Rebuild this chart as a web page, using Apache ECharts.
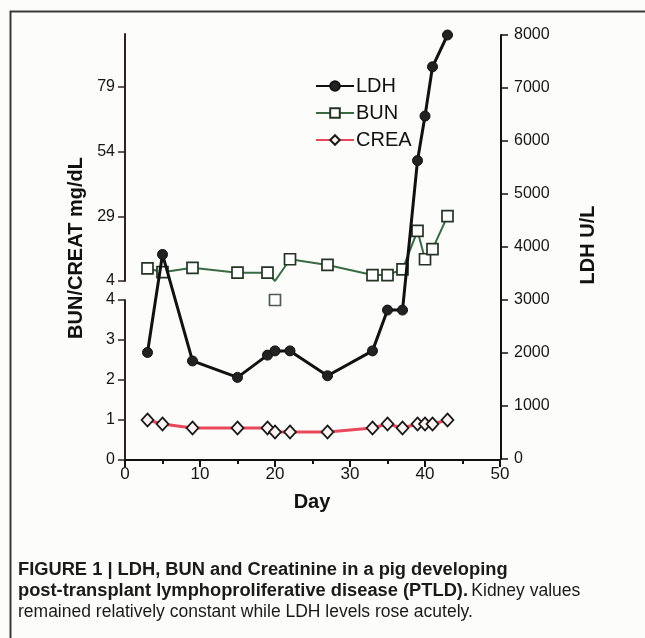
<!DOCTYPE html>
<html>
<head>
<meta charset="utf-8">
<script src="https://cdn.jsdelivr.net/npm/echarts@6/dist/echarts.min.js"></script>
<style>
html,body{margin:0;padding:0;background:#fcfcfb;}
#c{width:645px;height:638px;}
</style>
</head>
<body>
<div id="c"></div>
<script>
// ---- data ----
const days = [3, 5, 9, 15, 19, 20, 22, 27, 33, 35, 37, 39, 40, 41, 43];
const ldh  = [2010, 3860, 1850, 1540, 1960, 2040, 2040, 1570, 2040, 2810, 2810, 5630, 6470, 7400, 8000];
const bun  = [8.9, 7.4, 9.1, 7.2, 7.2, 4.0, 12.4, 10.2, 6.3, 6.3, 8.5, 23.4, 12.4, 16.3, 29.1];
const crea = [1.0, 0.9, 0.8, 0.8, 0.8, 0.7, 0.7, 0.7, 0.8, 0.9, 0.8, 0.9, 0.9, 0.9, 1.0];
const upperTicks = [4, 29, 54, 79];
const lowerTicks = [0, 1, 2, 3, 4];
const xTicks = [0, 10, 20, 30, 40, 50];
const ldhTicks = [0, 1000, 2000, 3000, 4000, 5000, 6000, 7000, 8000];
const breakValue = 4;

const FONT = "'Liberation Sans', Arial, sans-serif";
const chart = echarts.init(document.getElementById('c'), null, {renderer: 'canvas'});

const bunUpper = days.map((d, i) => bun[i] > breakValue ? [d, bun[i]] : {value: [d, breakValue], symbol: 'none'});
const bunLower = days.map((d, i) => [d, bun[i]]).filter(p => p[1] <= breakValue);

const axisCol = '#2e2222';
const labelStyle = {color: '#151515', fontSize: 16, fontFamily: FONT};

chart.setOption({
  backgroundColor: '#fcfcfb',
  animation: false,
  grid: [
    {left: 125, top: 34, width: 375, height: 247},
    {left: 125, top: 300, width: 375, height: 160},
    {left: 125, top: 35, width: 375, height: 424}
  ],
  xAxis: [
    {gridIndex: 0, type: 'value', min: 0, max: 50, show: false},
    {gridIndex: 1, type: 'value', min: 0, max: 50, interval: 10,
      axisLine: {onZero: false, lineStyle: {color: '#111', width: 2}},
      axisTick: {length: 7, lineStyle: {color: '#111', width: 2}, customValues: xTicks},
      minorTick: {show: true, splitNumber: 2, length: 4, lineStyle: {color: '#111', width: 2}},
      splitLine: {show: false},
      axisLabel: Object.assign({margin: 6, customValues: xTicks}, labelStyle, {fontSize: 17})
    },
    {gridIndex: 2, type: 'value', min: 0, max: 50, show: false}
  ],
  yAxis: [
    {gridIndex: 0, type: 'value', min: 4, max: 99.5,
      axisLine: {show: true, onZero: false, lineStyle: {color: axisCol, width: 2}},
      axisTick: {show: true, length: 7, customValues: upperTicks, lineStyle: {color: axisCol, width: 1.5}},
      axisLabel: Object.assign({customValues: upperTicks, margin: 10}, labelStyle),
      splitLine: {show: false}
    },
    {gridIndex: 1, type: 'value', min: 0, max: 4, interval: 1,
      axisLine: {show: true, onZero: false, lineStyle: {color: axisCol, width: 2}},
      axisTick: {show: true, length: 7, customValues: lowerTicks, lineStyle: {color: axisCol, width: 1.5}},
      axisLabel: Object.assign({customValues: lowerTicks, margin: 10}, labelStyle),
      splitLine: {show: false}
    },
    {gridIndex: 2, type: 'value', position: 'right', min: 0, max: 8000, interval: 1000, offset: 1,
      axisLine: {show: true, onZero: false, lineStyle: {color: '#111', width: 2}},
      axisTick: {show: true, length: 7, lineStyle: {color: '#111', width: 1.5}},
      axisLabel: Object.assign({margin: 13, customValues: ldhTicks, formatter: v => String(v)}, labelStyle),
      splitLine: {show: false}
    }
  ],
  legend: {
    orient: 'vertical', left: 310, top: 71,
    itemWidth: 38, itemHeight: 12, itemGap: 7,
    textStyle: {fontSize: 20, fontFamily: FONT, color: '#111', lineHeight: 20, padding: [0, 0, 0, -3]},
    data: ['LDH', 'BUN', 'CREA']
  },
  series: [
    {name: 'BUN', type: 'line', xAxisIndex: 0, yAxisIndex: 0, data: bunUpper,
      symbol: 'rect', symbolSize: 11, clip: true,
      lineStyle: {color: '#3a6a44', width: 2},
      itemStyle: {color: '#ffffff', borderColor: '#243424', borderWidth: 1.7}, z: 3},
    {name: 'BUN', type: 'scatter', xAxisIndex: 1, yAxisIndex: 1, data: bunLower,
      symbol: 'rect', symbolSize: 11, clip: false,
      itemStyle: {color: '#ffffff', borderColor: '#243424', borderWidth: 1.7}, z: 3},
    {name: 'CREA', type: 'line', xAxisIndex: 1, yAxisIndex: 1, data: days.map((d, i) => [d, crea[i]]),
      symbol: 'diamond', symbolSize: [12, 13],
      lineStyle: {color: '#e8485a', width: 3},
      itemStyle: {color: '#fff4f4', borderColor: '#1a1a1a', borderWidth: 1.7}, z: 3},
    {name: 'LDH', type: 'line', xAxisIndex: 2, yAxisIndex: 2, data: days.map((d, i) => [d, ldh[i]]),
      symbol: 'circle', symbolSize: 10, clip: false,
      lineStyle: {color: '#111', width: 3},
      itemStyle: {color: '#222', borderColor: '#111', borderWidth: 1}, z: 5}
  ],
  graphic: [
    {type: 'rect', left: 8, top: 9, shape: {width: 660, height: 660},
      style: {fill: 'none', stroke: '#3a3a3a', lineWidth: 2}, silent: true, z: -1},
    {type: 'text', x: 76, y: 248, rotation: Math.PI / 2,
      style: {text: 'BUN/CREAT mg/dL', font: "bold 20px " + FONT, fill: '#111', align: 'center', verticalAlign: 'middle'}},
    {type: 'text', x: 588, y: 245, rotation: Math.PI / 2,
      style: {text: 'LDH U/L', font: "bold 20px " + FONT, fill: '#111', align: 'center', verticalAlign: 'middle'}},
    {type: 'text', x: 312, y: 502,
      style: {text: 'Day', font: "bold 20px " + FONT, fill: '#111', align: 'center', verticalAlign: 'middle'}},
    {type: 'text', x: 18, y: 570,
      style: {text: 'FIGURE 1 | LDH, BUN and Creatinine in a pig developing', font: "bold 18.3px " + FONT, fill: '#1a1a1a', verticalAlign: 'middle'}},
    {type: 'text', x: 18, y: 591,
      style: {text: '{b|post-transplant lymphoproliferative disease (PTLD).} {r|Kidney values}',
        verticalAlign: 'middle',
        rich: {b: {font: "bold 18.3px " + FONT, fill: '#1a1a1a'}, r: {font: "17.5px " + FONT, fill: '#1a1a1a'}}}},
    {type: 'text', x: 18, y: 612,
      style: {text: 'remained relatively constant while LDH levels rose acutely.', font: "17.5px " + FONT, fill: '#1a1a1a', verticalAlign: 'middle'}}
  ]
});
</script>
</body>
</html>
